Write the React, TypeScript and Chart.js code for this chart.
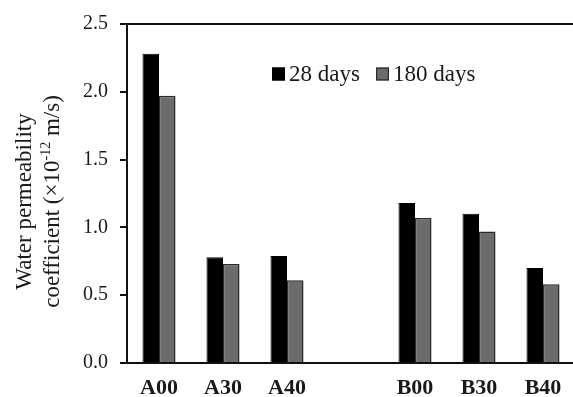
import React, { useEffect, useRef } from "react";
import { Chart, registerables } from "chart.js";

Chart.register(...registerables);

const categories = ["A00", "A30", "A40", "", "B00", "B30", "B40"];
const days28 = [2.28, 0.78, 0.79, null, 1.18, 1.1, 0.7];
const days180 = [1.97, 0.73, 0.61, null, 1.07, 0.97, 0.58];
const seriesLabels = ["28 days", "180 days"];
const yMin = 0;
const yMax = 2.5;
const yStep = 0.5;
const yTitleLine1 = "Water permeability";
const yTitleLine2 = ["coefficient (×10", "-12", " m/s)"];

const SERIF = "'Liberation Serif', 'Times New Roman', serif";
const TEXT = "#1a1a1a";

const titlePlugin = {
  id: "yTitle",
  afterDraw(chart: any) {
    const { ctx, chartArea } = chart;
    const cy = (chartArea.top + chartArea.bottom) / 2 + 8;
    ctx.save();
    ctx.fillStyle = TEXT;
    ctx.textBaseline = "middle";
    // line 1
    ctx.save();
    ctx.translate(25, cy);
    ctx.rotate(-Math.PI / 2);
    ctx.font = `23px ${SERIF}`;
    ctx.textAlign = "center";
    ctx.fillText(yTitleLine1, 0, 0);
    ctx.restore();
    // line 2 with superscript
    ctx.save();
    ctx.translate(53, cy);
    ctx.rotate(-Math.PI / 2);
    ctx.textAlign = "left";
    const big = `23px ${SERIF}`;
    const small = `14px ${SERIF}`;
    ctx.font = big;
    const w1 = ctx.measureText(yTitleLine2[0]).width;
    const w3 = ctx.measureText(yTitleLine2[2]).width;
    ctx.font = small;
    const w2 = ctx.measureText(yTitleLine2[1]).width;
    const total = w1 + w2 + w3;
    let x = -total / 2;
    ctx.font = big;
    ctx.fillText(yTitleLine2[0], x, 0);
    x += w1;
    ctx.font = small;
    ctx.fillText(yTitleLine2[1], x, -7);
    x += w2;
    ctx.font = big;
    ctx.fillText(yTitleLine2[2], x, 0);
    ctx.restore();
    ctx.restore();
  },
};

const legendPlugin = {
  id: "customLegend",
  afterDraw(chart: any) {
    const { ctx, chartArea } = chart;
    const ds = chart.data.datasets;
    const y = chartArea.top + 50;
    const box = 13;
    const starts = [chartArea.left + 145, chartArea.left + 249];
    ctx.save();
    ctx.font = `23px ${SERIF}`;
    ctx.textBaseline = "middle";
    ctx.textAlign = "left";
    ds.forEach((d: any, i: number) => {
      const x = starts[i];
      ctx.fillStyle = d.backgroundColor;
      ctx.fillRect(x, y - box / 2, box, box);
      ctx.lineWidth = 1.2;
      ctx.strokeStyle = d.borderColor;
      ctx.strokeRect(x + 0.6, y - box / 2 + 0.6, box - 1.2, box - 1.2);
      ctx.fillStyle = TEXT;
      ctx.fillText(d.label, x + box + 4, y + 1);
    });
    ctx.restore();
  },
};

export default function App() {
  const ref = useRef<HTMLCanvasElement>(null);
  useEffect(() => {
    if (!ref.current) return;
    const chart = new Chart(ref.current, {
      type: "bar",
      data: {
        labels: categories,
        datasets: [
          {
            label: seriesLabels[0],
            data: days28,
            backgroundColor: "#000000",
            borderColor: "#000000",
            borderWidth: 1,
          },
          {
            label: seriesLabels[1],
            data: days180,
            backgroundColor: "#6c6c6c",
            borderColor: "#2a2a2a",
            borderWidth: 1.5,
          },
        ],
      },
      options: {
        responsive: false,
        animation: false,
        layout: { padding: { top: 20, left: 0, right: 0, bottom: 0 } },
        datasets: {
          bar: { categoryPercentage: 0.516, barPercentage: 1 },
        } as any,
        plugins: {
          legend: { display: false },
          tooltip: { enabled: false },
        },
        scales: {
          x: {
            grid: { display: false, drawTicks: false },
            border: { display: true, color: "#111", width: 2 },
            ticks: {
              color: TEXT,
              font: { family: SERIF, size: 22, weight: "bold" },
              padding: 12,
              maxRotation: 0,
              autoSkip: false,
            },
            afterFit(scale: any) {
              scale.height = 34;
            },
          },
          y: {
            min: yMin,
            max: yMax,
            grid: {
              color: (c: any) =>
                c.tick && c.tick.value === yMax ? "#111" : "rgba(0,0,0,0)",
              lineWidth: 2,
              drawTicks: true,
              tickLength: 7,
              tickColor: "#111",
              tickWidth: 2,
            },
            border: { display: true, color: "#111", width: 2 },
            ticks: {
              stepSize: yStep,
              color: TEXT,
              font: { family: SERIF, size: 20 },
              padding: 12,
              callback: (v: any) => Number(v).toFixed(1),
            },
            afterFit(scale: any) {
              scale.width = 127;
            },
          },
        },
      },
      plugins: [titlePlugin, legendPlugin],
    });
    return () => chart.destroy();
  }, []);
  return (
    <div
      style={{
        position: "absolute",
        left: 0,
        top: 0,
        width: 573,
        height: 397,
        overflow: "hidden",
        background: "#fff",
      }}
    >
      <canvas ref={ref} width={575} height={397} style={{ display: "block" }} />
    </div>
  );
}
